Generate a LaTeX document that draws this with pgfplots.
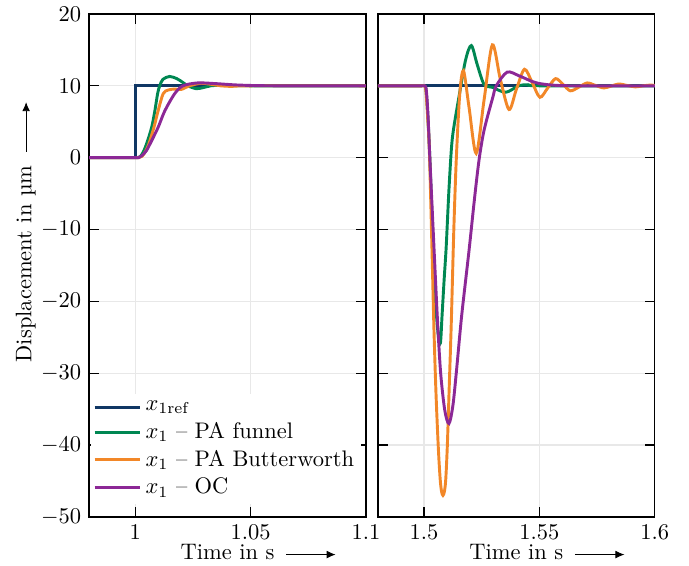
\documentclass[border=0pt]{standalone}
\usepackage{pgfplots}
\pgfplotsset{compat=1.18}
\usetikzlibrary{arrows.meta}
\definecolor{cblue}{RGB}{16,55,100}
\definecolor{cgreen}{RGB}{0,135,82}
\definecolor{corange}{RGB}{242,135,40}
\definecolor{cpurple}{RGB}{140,40,150}
\newcommand{\harrow}{\tikz[baseline=-0.55ex]\draw[-{Latex[length=4pt,width=3.5pt]}] (0,0)--(22pt,0);}
\begin{document}
\begin{tikzpicture}
\useasboundingbox (-39.6pt,-21.8pt) rectangle (266.7pt,229.8pt);
\pgfplotsset{
  common/.style={
    scale only axis, width=123.1pt, height=223.6pt,
    ymin=-50, ymax=20, ytick={-50,-40,...,20},
    grid=major, major grid style={gray!18, line width=0.5pt},
    axis line style={line width=0.6pt}, tick style={line width=0.6pt, black},
    xlabel={Time in s\rlap{\hspace{5pt}\harrow}},
    xlabel style={yshift=4.5pt},
  },
  pl/.style={line width=1.3pt, #1},
}
\begin{axis}[common, xmin=0.98, xmax=1.1, xtick={1,1.05,1.1},
  ylabel={Displacement in µm\rlap{\hspace{6pt}\harrow}},
  ylabel style={at={(ticklabel cs:0.503)}, yshift=-4.5pt},
  legend style={at={(0.005,0.025)}, anchor=south west, draw=none, fill=white, inner sep=1pt, row sep=-0.3pt},
  legend cell align=left,
  legend image code/.code={\draw[#1] (0pt,0pt) -- (20pt,0pt);},
]
\addplot[pl=cblue] coordinates {(0.98,0) (1.0002,0) (1.0002,10) (1.1,10)};
\addlegendentry{$x_{1\mathrm{ref}}$}
\addplot[pl=cgreen, smooth, tension=0.5] coordinates {(0.98,0) (0.999,0) (1.001,0) (1.0022,0.15) (1.0035,0.8) (1.0049,1.9) (1.0071,4.2) (1.0085,6.5) (1.0097,8.9) (1.0106,10) (1.012,10.9) (1.0149,11.3) (1.018,11) (1.0205,10.5) (1.0228,10) (1.0264,9.6) (1.0295,9.75) (1.0328,10) (1.037,10.05) (1.05,10) (1.1,10)};
\addlegendentry{$x_1$ -- PA funnel}
\addplot[pl=corange, smooth, tension=0.5] coordinates {(0.98,0) (0.999,0) (1.0015,0) (1.003,0.2) (1.0045,0.9) (1.0059,1.9) (1.0081,4.2) (1.0099,6.5) (1.0121,8.9) (1.0142,9.4) (1.017,9.55) (1.02,9.5) (1.0235,10) (1.0285,10.35) (1.033,10.2) (1.037,10.0) (1.042,9.92) (1.05,10.0) (1.1,10)};
\addlegendentry{$x_1$ -- PA Butterworth}
\addplot[pl=cpurple, smooth, tension=0.5] coordinates {(0.98,0) (0.999,0) (1.0015,0) (1.003,0.3) (1.0049,1.0) (1.0064,1.9) (1.0099,4.2) (1.0128,6.5) (1.0171,8.9) (1.0207,10) (1.0271,10.4) (1.035,10.3) (1.045,10.1) (1.06,10) (1.1,10)};
\addlegendentry{$x_1$ -- OC}
\end{axis}
\begin{axis}[common, xshift=128.4pt, xmin=1.48, xmax=1.6, xtick={1.5,1.55,1.6}, yticklabels={}]
\addplot[pl=cblue] coordinates {(1.48,10) (1.6,10)};
\addplot[pl=cgreen, smooth, tension=0.5] coordinates {(1.48,10) (1.499,10) (1.5003,10) (1.5009,9.3) (1.5016,6) (1.5025,0) (1.504,-13) (1.5052,-21) (1.5062,-24.8) (1.5071,-25.8) (1.5078,-22) (1.5087,-17) (1.5096,-12.4) (1.5107,-5) (1.5118,1) (1.5127,3.8) (1.5151,8.4) (1.518,13.6) (1.5205,15.6) (1.523,13) (1.526,10.2) (1.5295,9.8) (1.5354,9.1) (1.541,10) (1.545,10.15) (1.55,10) (1.6,10)};
\addplot[pl=corange, smooth, tension=0.5] coordinates {(1.48,10) (1.499,10) (1.5002,10) (1.5008,9.3) (1.5015,6) (1.5023,1) (1.5033,-11) (1.5043,-24) (1.5052,-33) (1.5062,-40.5) (1.507,-44.8) (1.5076,-46.5) (1.5082,-47) (1.5088,-46.5) (1.5094,-44.8) (1.5101,-40) (1.5109,-32) (1.5118,-23) (1.5129,-10) (1.514,0) (1.5155,9) (1.5171,12.1) (1.5195,7) (1.5226,0.6) (1.526,8) (1.5296,15.7) (1.533,11) (1.5368,6.7) (1.540,9.5) (1.5435,12.3) (1.5468,10.5) (1.5502,8.4) (1.5536,9.7) (1.557,11.0) (1.5602,10.2) (1.5634,9.3) (1.567,9.8) (1.5707,10.4) (1.5743,10.05) (1.5779,9.7) (1.581,9.95) (1.5843,10.25) (1.588,10.05) (1.5916,9.85) (1.595,10) (1.598,10.1) (1.6,10.05)};
\addplot[pl=cpurple, smooth, tension=0.5] coordinates {(1.48,10) (1.499,10) (1.5004,10) (1.501,9.3) (1.5017,6) (1.5025,0) (1.5043,-12.5) (1.5058,-22.5) (1.5072,-30) (1.509,-35.2) (1.5108,-37.0) (1.5125,-34.5) (1.5141,-29.5) (1.5163,-22) (1.5195,-12.9) (1.5218,-5.9) (1.5238,-0.4) (1.526,3.8) (1.5298,8.4) (1.5313,10) (1.536,11.9) (1.5411,11.4) (1.5468,10.6) (1.5497,10.33) (1.5555,10.1) (1.565,10) (1.6,10)};
\end{axis}
\end{tikzpicture}
\end{document}
